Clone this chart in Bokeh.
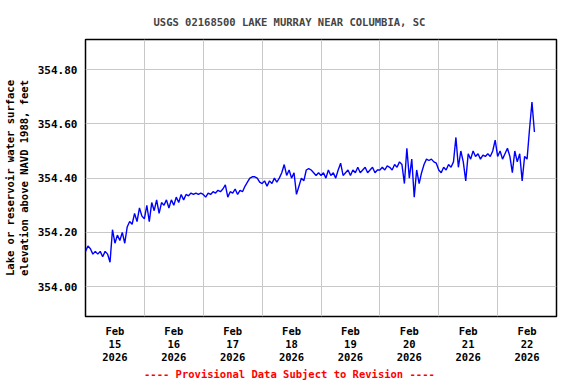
from bokeh.plotting import figure
from bokeh.models import FixedTicker, PrintfTickFormatter, Range1d
from bokeh.embed import file_html
from bokeh.resources import INLINE

# Hourly gage heights (ft), starting Feb 15 2026 00:00
elev_day1 = [354.13, 354.15, 354.14, 354.12, 354.13, 354.12, 354.13, 354.11, 354.13, 354.12,
             354.09, 354.21, 354.16, 354.19, 354.17, 354.20, 354.16, 354.22, 354.24, 354.23,
             354.27, 354.24, 354.29, 354.26]
elev_day2 = [354.25, 354.30, 354.24, 354.31, 354.28, 354.32, 354.27, 354.31, 354.30, 354.32,
             354.29, 354.32, 354.30, 354.33, 354.31, 354.34, 354.32, 354.34, 354.335, 354.345,
             354.34, 354.345, 354.34, 354.345]
elev_day3 = [354.34, 354.33, 354.345, 354.34, 354.35, 354.345, 354.355, 354.35, 354.36, 354.375,
             354.33, 354.35, 354.345, 354.36, 354.34, 354.355, 354.35, 354.37, 354.385, 354.40,
             354.405, 354.405, 354.40, 354.385]
elev_day4 = [354.38, 354.39, 354.37, 354.39, 354.38, 354.40, 354.385, 354.40, 354.42, 354.45,
             354.41, 354.43, 354.40, 354.42, 354.34, 354.37, 354.40, 354.39, 354.43, 354.435,
             354.43, 354.42, 354.41, 354.42]
elev_day5 = [354.41, 354.42, 354.40, 354.43, 354.41, 354.42, 354.40, 354.43, 354.455, 354.41,
             354.42, 354.43, 354.41, 354.43, 354.42, 354.44, 354.42, 354.43, 354.44, 354.42,
             354.43, 354.44, 354.42, 354.43]
elev_day6 = [354.43, 354.44, 354.43, 354.445, 354.44, 354.43, 354.45, 354.44, 354.46, 354.45,
             354.38, 354.51, 354.40, 354.47, 354.33, 354.43, 354.38, 354.42, 354.45, 354.47,
             354.465, 354.47, 354.46, 354.455]
elev_day7 = [354.43, 354.42, 354.44, 354.43, 354.45, 354.44, 354.46, 354.55, 354.44, 354.50,
             354.46, 354.39, 354.49, 354.47, 354.50, 354.48, 354.49, 354.47, 354.485, 354.48,
             354.49, 354.48, 354.50, 354.54]
elev_day8 = [354.48, 354.50, 354.47, 354.49, 354.51, 354.48, 354.42, 354.50, 354.46, 354.49,
             354.39, 354.48, 354.47, 354.58, 354.68, 354.57]

elevation = (elev_day1 + elev_day2 + elev_day3 + elev_day4 + elev_day5 + elev_day6
             + elev_day7 + elev_day8)
days = [h / 24.0 for h in range(len(elevation))]

day_centers = [0.5, 1.5, 2.5, 3.5, 4.5, 5.5, 6.5, 7.5]
day_labels = ["Feb\n15\n2026", "Feb\n16\n2026", "Feb\n17\n2026", "Feb\n18\n2026",
              "Feb\n19\n2026", "Feb\n20\n2026", "Feb\n21\n2026", "Feb\n22\n2026"]
day_bounds = [1, 2, 3, 4, 5, 6, 7]
y_ticks = [354.0, 354.2, 354.4, 354.6, 354.8]

FONT = "DejaVu Sans Mono"

p = figure(frame_width=471, frame_height=277, output_backend="svg", toolbar_location=None,
           x_range=Range1d(0, 8), y_range=Range1d(353.89, 354.911),
           min_border_left=85, min_border_right=20, min_border_top=39, min_border_bottom=68)

p.line(days, elevation, line_color="#0000ff", line_width=1.4)

p.title.text = "USGS 02168500 LAKE MURRAY NEAR COLUMBIA, SC"
p.title.text_font = FONT
p.title.text_font_style = "bold"
p.title.text_font_size = "10.5px"
p.title.align = "left"
p.title.offset = 68
p.title.standoff = 24

p.outline_line_color = "black"
p.outline_line_width = 1.5

xa = p.xaxis[0]
xa.ticker = FixedTicker(ticks=day_centers)
xa.major_label_overrides = {c: l for c, l in zip(day_centers, day_labels)}
xa.major_tick_line_color = None
xa.minor_tick_line_color = None
xa.major_tick_out = 0
xa.major_tick_in = 0
xa.axis_line_color = None
xa.major_label_standoff = 8
xa.major_label_text_font = FONT
xa.major_label_text_font_style = "bold"
xa.major_label_text_font_size = "10.5px"
xa.major_label_text_line_height = 1.1
xa.major_label_text_color = "black"
xa.axis_label = "---- Provisional Data Subject to Revision ----" + "\u00a0" * 10
xa.axis_label_text_color = "red"
xa.axis_label_text_font = FONT
xa.axis_label_text_font_style = "bold"
xa.axis_label_text_font_size = "10.5px"
xa.axis_label_standoff = 2

ya = p.yaxis[0]
ya.ticker = FixedTicker(ticks=y_ticks)
ya.formatter = PrintfTickFormatter(format="%.2f")
ya.major_tick_line_color = None
ya.minor_tick_line_color = None
ya.major_tick_out = 0
ya.major_tick_in = 0
ya.axis_line_color = None
ya.major_label_standoff = 8
ya.major_label_text_font = FONT
ya.major_label_text_font_style = "bold"
ya.major_label_text_font_size = "11px"
ya.major_label_text_color = "black"
ya.axis_label = "Lake or reservoir water surface\nelevation above NAVD 1988, feet"
ya.axis_label_text_font = FONT
ya.axis_label_text_font_style = "bold"
ya.axis_label_text_font_size = "10.5px"
ya.axis_label_text_line_height = 1.15
ya.axis_label_text_color = "black"
ya.axis_label_standoff = 5

p.xgrid.ticker = FixedTicker(ticks=day_bounds)
p.grid.grid_line_color = "#c8c8c8"
p.grid.grid_line_width = 1

open("out.html", "w").write(file_html(p, INLINE))
